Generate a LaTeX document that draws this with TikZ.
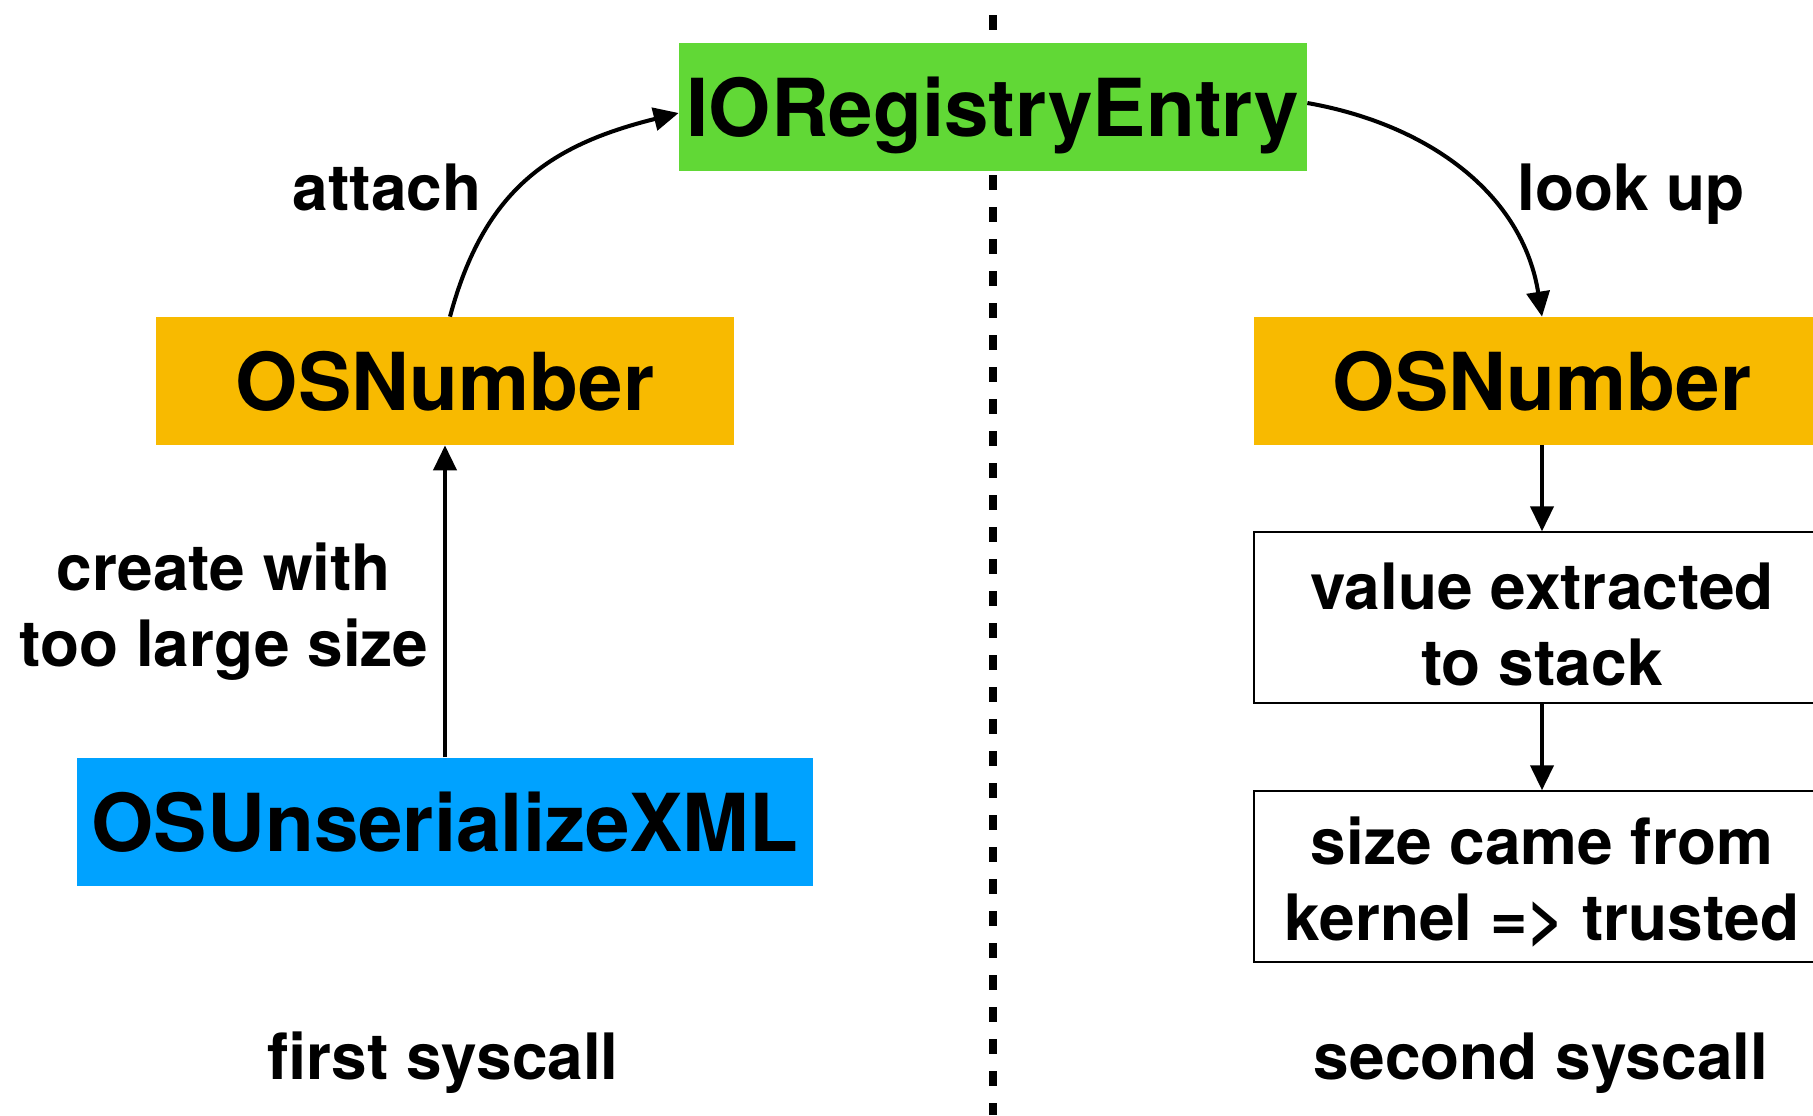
\documentclass[tikz,border=0pt]{standalone}
\usepackage{fontspec}
\setmainfont{TeX Gyre Heros}
\usepackage{tikz}
\usetikzlibrary{positioning, arrows.meta}
\definecolor{iogreen}{HTML}{61D836}
\definecolor{osorange}{HTML}{F8BA00}
\definecolor{xmlblue}{HTML}{00A2FF}
\newcommand{\clsfont}{\fontsize{45.5}{55}\selectfont\bfseries}
\newcommand{\lblfont}{\fontsize{36.4}{43.2}\selectfont\bfseries}
\tikzset{
  cls/.style     = {rectangle, minimum height=25.6mm, inner sep=0pt,
                    text depth=0pt, font=\clsfont},
  stepbox/.style = {draw, rectangle, line width=1.1pt, align=center,
                    minimum width=115.2mm, minimum height=34.2mm,
                    inner sep=0pt, text height=27mm, font=\lblfont},
  ar/.style      = {-{Triangle[length=5mm, width=4.6mm]}, line width=2.3pt},
  lbl/.style     = {font=\lblfont, align=center, inner sep=0pt, text depth=0pt},
  sep/.style     = {line width=5pt, dash pattern=on 3mm off 3.4mm},
}

\begin{document}
\begin{tikzpicture}[node distance=17.2mm]
  \useasboundingbox (0,0) rectangle (36.26,-22.30);

  % separator between the two syscalls
  \coordinate (septop) at (19.86,-0.3);
  \coordinate (sepbot) at (19.86,-22.3);
  \draw[sep] (septop) -- (sepbot);

  \node[cls, fill=iogreen, minimum width=125.6mm] (ioreg) at (19.86,-2.13) {IORegistryEntry};
  \node[cls, fill=osorange, minimum width=115.6mm] (numL) at (8.9,-7.62) {OSNumber};
  \node[cls, fill=osorange, minimum width=115.2mm] (numR) at (30.84,-7.62) {OSNumber};
  \node[cls, fill=xmlblue, minimum width=147.2mm, below=62.4mm of numL] (xml) {OSUnserializeXML};

  \node[stepbox, below=of numR] (val)   {value extracted\\to stack};
  \node[stepbox, below=of val]  (trust) {size came from\\kernel => trusted};

  \node[lbl] (attL)    at (7.74,-3.74)  {attach};
  \node[lbl] (lookL)   at (32.62,-3.74) {look up};
  \node[lbl] (createL) at (4.48,-12.1)  {create with\\too large size};
  \node[lbl] (first)   at (8.86,-21.12) {first syscall};
  \node[lbl] (second)  at (30.82,-21.12) {second syscall};

  \draw[ar] (xml) -- (numL);
  \draw[ar] ([xshift=1mm]numL.north) to[out=75, in=194, looseness=1.1] ([yshift=-1.3mm]ioreg.west);
  \draw[ar] ([yshift=0.7mm]ioreg.east) to[out=-10, in=99] (numR.north);
  \draw[ar] (numR) -- (val);
  \draw[ar] (val) -- (trust);
\end{tikzpicture}
\end{document}
